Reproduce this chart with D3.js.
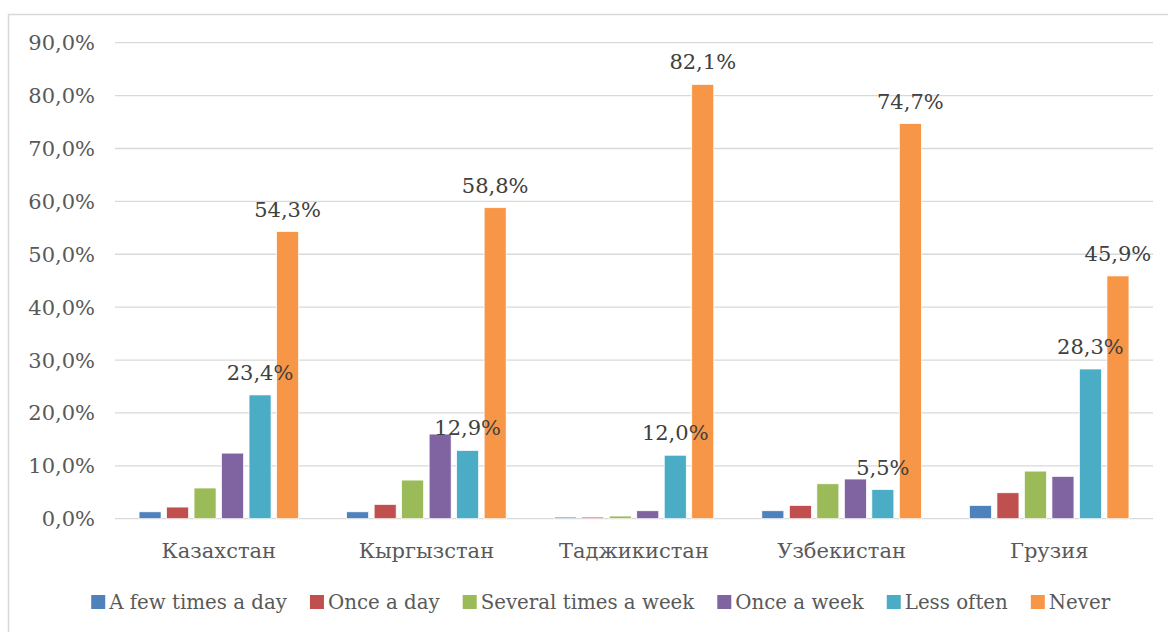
<!DOCTYPE html>
<html><head><meta charset="utf-8">
<script src="https://cdn.jsdelivr.net/npm/d3@7"></script>
<style>html,body{margin:0;padding:0;background:#fff;}svg{display:block;}</style>
</head><body>
<svg id="c" width="1168" height="632"></svg>
<script>
const categories = ["Казахстан", "Кыргызстан", "Таджикистан", "Узбекистан", "Грузия"];
const series = ["A few times a day", "Once a day", "Several times a week", "Once a week", "Less often", "Never"];
const fewTimesADay  = [1.3, 1.3, 0.3, 1.5, 2.5];
const onceADay      = [2.2, 2.7, 0.3, 2.5, 4.9];
const severalAWeek  = [5.8, 7.3, 0.5, 6.6, 9.0];
const onceAWeek     = [12.4, 16.0, 1.5, 7.5, 8.0];
const lessOften     = [23.4, 12.9, 12.0, 5.5, 28.3];
const never         = [54.3, 58.8, 82.1, 74.7, 45.9];
const labelledSeries = ["Less often", "Never"];
const yTicks = [0, 10, 20, 30, 40, 50, 60, 70, 80, 90];
const colors = ["#4f81bd", "#c0504d", "#9bbb59", "#8064a2", "#4bacc6", "#f79646"];

const values = [fewTimesADay, onceADay, severalAWeek, onceAWeek, lessOften, never];
const data = [];
categories.forEach((c, ci) => series.forEach((s, si) => data.push({c, s, si, v: values[si][ci]})));

const svg = d3.select("#c");
const FONT = "'DejaVu Serif', serif";
const fmt = v => v.toFixed(1).replace(".", ",") + "%";

// chart border
svg.append("rect").attr("x", 8.5).attr("y", 14.5).attr("width", 1200).attr("height", 700)
  .attr("fill", "#fff").attr("stroke", "#d9d9d9").attr("stroke-width", 1.5);

const left = 115, right = 1153, y0 = 518.7, yTop = 42.7;
const x0 = d3.scaleBand().domain(categories).range([left, right]).padding(0);
const groupW = 159.5;
const x1 = d3.scaleBand().domain(series).range([-groupW / 2, groupW / 2]).paddingInner(0.2);
const y = d3.scaleLinear().domain([0, 90]).range([y0, yTop]);

// gridlines
svg.append("g").selectAll("line").data(yTicks).join("line")
  .attr("x1", left).attr("x2", right)
  .attr("y1", d => y(d)).attr("y2", d => y(d))
  .attr("stroke", "#d9d9d9").attr("stroke-width", 1.3);

// y axis labels
svg.append("g").selectAll("text").data(yTicks).join("text")
  .attr("x", 95).attr("y", d => y(d)).attr("dy", "0.36em")
  .attr("text-anchor", "end").attr("font-family", FONT).attr("font-size", 21)
  .attr("fill", "#595959").text(d => fmt(d));

// bars
const bx = d => x0(d.c) + x0.bandwidth() / 2 + x1(d.s);
svg.append("g").selectAll("rect").data(data).join("rect")
  .attr("x", bx).attr("width", x1.bandwidth())
  .attr("y", d => y(d.v)).attr("height", d => y0 - y(d.v))
  .attr("fill", d => colors[d.si]).attr("stroke", "#fff").attr("stroke-width", 0.7);

// data labels
svg.append("g").selectAll("text").data(data.filter(d => labelledSeries.includes(d.s))).join("text")
  .attr("x", d => bx(d) + x1.bandwidth() / 2).attr("y", d => y(d.v) - 15)
  .attr("text-anchor", "middle").attr("font-family", FONT).attr("font-size", 21)
  .attr("fill", "#404040").text(d => fmt(d.v));

// category labels
svg.append("g").selectAll("text").data(categories).join("text")
  .attr("x", d => x0(d) + x0.bandwidth() / 2).attr("y", 558)
  .attr("text-anchor", "middle").attr("font-family", FONT).attr("font-size", 21)
  .attr("fill", "#595959").text(d => d);

// legend
const lg = svg.append("g");
const items = lg.selectAll("g").data(series).join("g");
items.append("rect").attr("width", 14).attr("height", 14).attr("y", 595)
  .attr("fill", (d, i) => colors[i]);
const lt = items.append("text").attr("y", 609).attr("font-family", FONT).attr("font-size", 19.8)
  .attr("fill", "#595959").text(d => d);
const widths = [];
lt.each(function () { widths.push(this.getComputedTextLength()); });
const sqGap = 4, itemGap = 23;
let total = 0;
widths.forEach((w, i) => { total += 14 + sqGap + w + (i < widths.length - 1 ? itemGap : 0); });
let cx = 600.7 - total / 2;
items.each(function (d, i) {
  const g = d3.select(this);
  g.select("rect").attr("x", cx);
  g.select("text").attr("x", cx + 14 + sqGap);
  cx += 14 + sqGap + widths[i] + itemGap;
});
</script>
</body></html>
